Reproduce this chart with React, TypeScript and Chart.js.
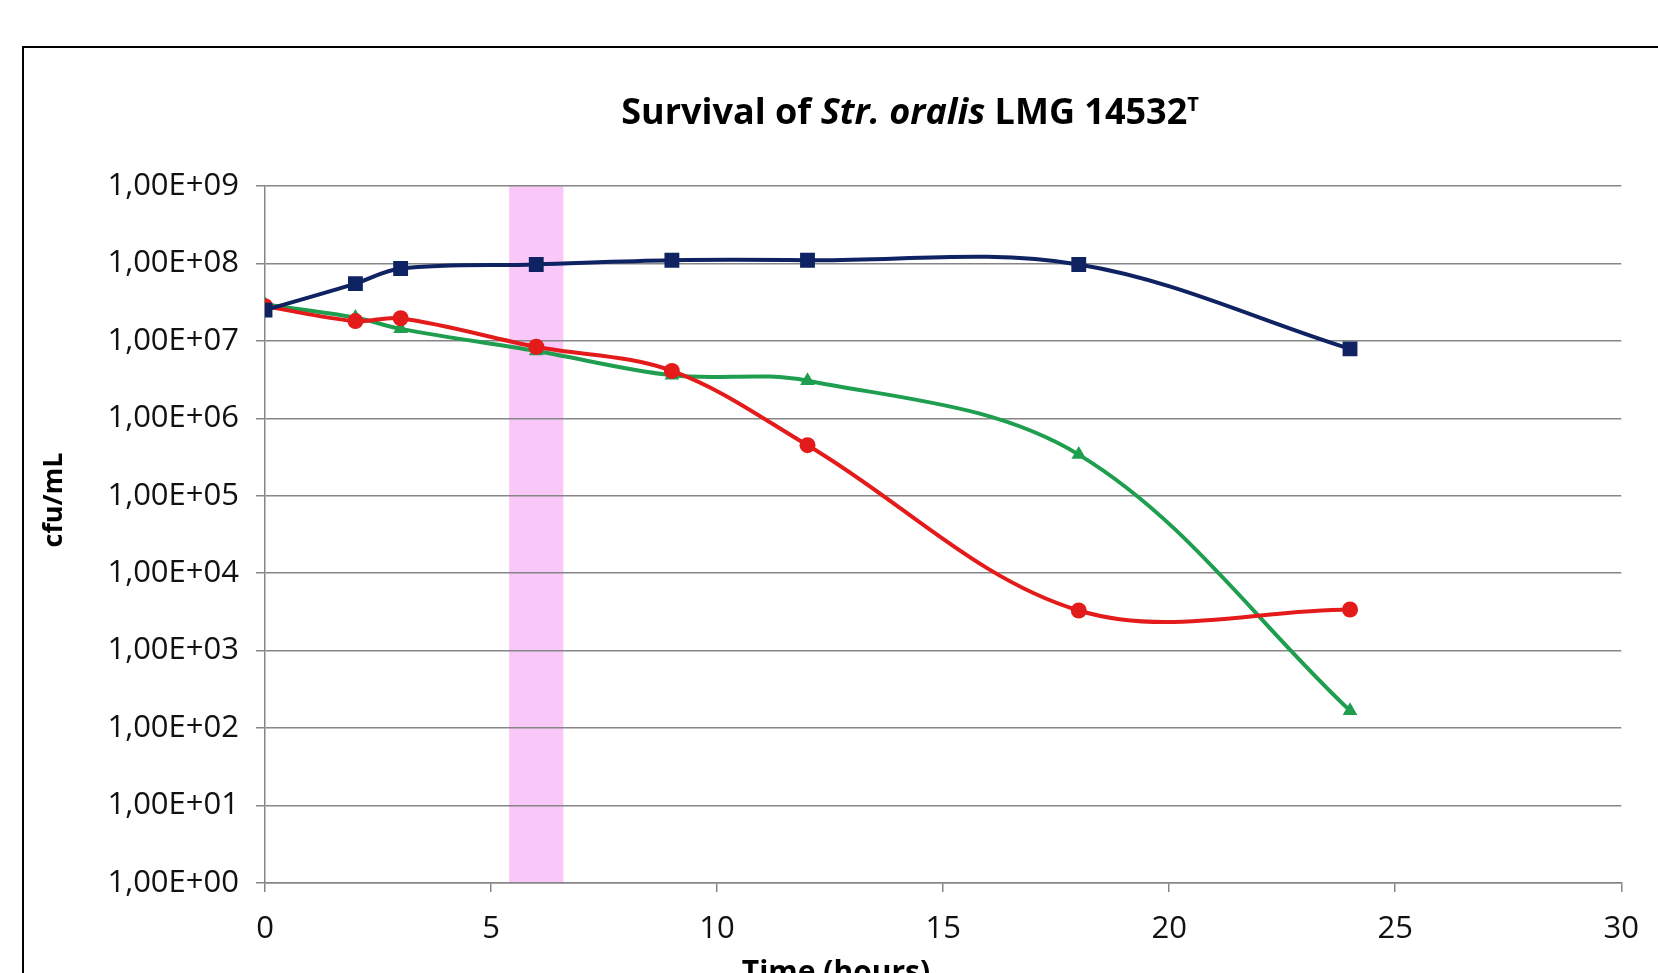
import React, { useEffect, useRef } from 'react';
import { Chart, registerables } from 'chart.js';

Chart.register(...registerables);

// ---- data ----
const hours = [0, 2, 3, 6, 9, 12, 18, 24];
const seriesNavy = [2.5e7, 5.5e7, 8.6e7, 9.7e7, 1.1e8, 1.1e8, 9.7e7, 7.9e6];
const seriesRed = [2.8e7, 1.8e7, 1.96e7, 8.4e6, 4.1e6, 4.5e5, 3.3e3, 3.4e3];
const seriesGreen = [2.95e7, 2.0e7, 1.43e7, 7.4e6, 3.6e6, 3.06e6, 3.4e5, 168];

const yTickValues = [1, 1e1, 1e2, 1e3, 1e4, 1e5, 1e6, 1e7, 1e8, 1e9];
const yTickLabels = [
  '1,00E+00', '1,00E+01', '1,00E+02', '1,00E+03', '1,00E+04',
  '1,00E+05', '1,00E+06', '1,00E+07', '1,00E+08', '1,00E+09',
];
const xTickValues = [0, 5, 10, 15, 20, 25, 30];
const highlightBand = [5.4, 6.6];

const titleMain = 'Survival of ';
const titleItalic = 'Str. oralis';
const titleRest = ' LMG 14532';
const titleSup = 'T';
const yAxisTitle = 'cfu/mL';
const xAxisTitle = 'Time (hours)';

const FONT = '"Open Sans", "Noto Sans", sans-serif';
const GRID = '#868686';

const decorPlugin = {
  id: 'decor',
  beforeDraw(chart: any) {
    const { ctx, chartArea, scales } = chart;
    ctx.save();
    ctx.fillStyle = '#ffffff';
    ctx.fillRect(0, 0, chart.width, chart.height);
    // outer frame
    ctx.strokeStyle = '#000000';
    ctx.lineWidth = 2;
    ctx.strokeRect(23, 47, 3000, 3000);
    // highlight band
    const x0 = scales.x.getPixelForValue(highlightBand[0]);
    const x1 = scales.x.getPixelForValue(highlightBand[1]);
    ctx.fillStyle = '#f9c8f8';
    ctx.fillRect(x0, chartArea.top, x1 - x0, chartArea.bottom - chartArea.top);
    ctx.restore();
  },
  afterDraw(chart: any) {
    const { ctx } = chart;
    ctx.save();
    ctx.fillStyle = '#000000';
    ctx.textBaseline = 'alphabetic';
    // title
    const s = 36;
    const parts = [
      { t: titleMain, f: `bold ${s}px ${FONT}`, dy: 0 },
      { t: titleItalic, f: `italic bold ${s}px ${FONT}`, dy: 0 },
      { t: titleRest, f: `bold ${s}px ${FONT}`, dy: 0 },
      { t: titleSup, f: `bold ${Math.round(s * 0.55)}px ${FONT}`, dy: -s * 0.36 },
    ];
    let total = 0;
    for (const p of parts) {
      ctx.font = p.f;
      total += ctx.measureText(p.t).width;
    }
    let x = 910 - total / 2;
    ctx.textAlign = 'left';
    for (const p of parts) {
      ctx.font = p.f;
      ctx.fillText(p.t, x, 124 + p.dy);
      x += ctx.measureText(p.t).width;
    }
    // y axis title
    ctx.font = `bold 27px ${FONT}`;
    ctx.textAlign = 'center';
    ctx.translate(62, 500);
    ctx.rotate(-Math.PI / 2);
    ctx.fillText(yAxisTitle, 0, 0);
    ctx.setTransform(1, 0, 0, 1, 0, 0);
    // x axis title
    ctx.font = `bold 30px ${FONT}`;
    ctx.textAlign = 'center';
    ctx.fillText(xAxisTitle, 836, 982);
    ctx.restore();
  },
};

export default function App() {
  const ref = useRef<HTMLCanvasElement | null>(null);

  useEffect(() => {
    document.body.style.margin = '0';
    const canvas = ref.current;
    if (!canvas) return;
    const mk = (vals: number[]) => hours.map((h, i) => ({ x: h, y: vals[i] }));
    const chart = new Chart(canvas, {
      type: 'line',
      data: {
        datasets: [
          {
            label: 'navy',
            data: mk(seriesNavy),
            borderColor: '#0f2262',
            backgroundColor: '#0f2262',
            borderWidth: 4,
            pointStyle: 'rect',
            pointRadius: 10.5,
            pointBorderWidth: 0,
            tension: 0.35,
          },
          {
            label: 'red',
            data: mk(seriesRed),
            borderColor: '#e31b1b',
            backgroundColor: '#e31b1b',
            borderWidth: 4,
            pointStyle: 'circle',
            pointRadius: 8,
            pointBorderWidth: 0,
            tension: 0.35,
          },
          {
            label: 'green',
            data: mk(seriesGreen),
            borderColor: '#1f9e50',
            backgroundColor: '#1f9e50',
            borderWidth: 4,
            pointStyle: 'triangle',
            pointRadius: 8.5,
            pointBorderWidth: 0,
            tension: 0.35,
          },
        ],
      },
      options: {
        animation: false,
        responsive: false,
        events: [],
        layout: { padding: { left: 0, top: 186, right: 35, bottom: 0 } },
        plugins: {
          legend: { display: false },
          title: { display: false },
          tooltip: { enabled: false },
        },
        scales: {
          x: {
            type: 'linear',
            min: 0,
            max: 30,
            afterBuildTicks: (scale: any) => {
              scale.ticks = xTickValues.map((v) => ({ value: v }));
            },
            afterFit: (scale: any) => {
              scale.height = 90;
            },
            ticks: {
              font: { family: FONT, size: 31 },
              color: '#111111',
              padding: 19,
              maxRotation: 0,
              autoSkip: false,
            },
            grid: {
              drawOnChartArea: false,
              drawTicks: true,
              tickLength: 9,
              color: GRID,
              lineWidth: 1.5,
            },
            border: { display: true, color: GRID, width: 1.5 },
          },
          y: {
            type: 'logarithmic',
            min: 1,
            max: 1e9,
            afterBuildTicks: (scale: any) => {
              scale.ticks = yTickValues.map((v) => ({ value: v }));
            },
            afterFit: (scale: any) => {
              scale.width = 265;
            },
            ticks: {
              font: { family: FONT, size: 31 },
              color: '#111111',
              padding: 17,
              autoSkip: false,
              callback: (v: any) => {
                const i = Math.round(Math.log10(Number(v)));
                return yTickLabels[i] ?? '';
              },
            },
            grid: {
              drawOnChartArea: true,
              drawTicks: true,
              tickLength: 9,
              color: GRID,
              lineWidth: 1.5,
            },
            border: { display: true, color: GRID, width: 1.5 },
          },
        },
      },
      plugins: [decorPlugin],
    });
    return () => chart.destroy();
  }, []);

  return (
    <div style={{ position: 'fixed', left: 0, top: 0, width: 1658, height: 973, background: '#fff' }}>
      <canvas ref={ref} width={1658} height={973} style={{ width: 1658, height: 973, display: 'block' }} />
    </div>
  );
}
